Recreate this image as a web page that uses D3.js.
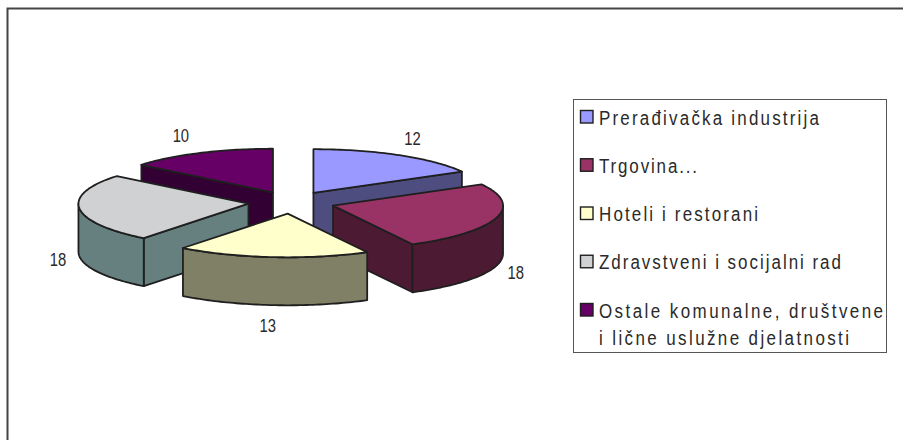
<!DOCTYPE html>
<html>
<head>
<meta charset="utf-8">
<script src="https://cdn.jsdelivr.net/npm/d3@7/dist/d3.min.js"></script>
<style>
html,body{margin:0;padding:0;background:#fff;}
svg{display:block;}
text{font-family:"Liberation Sans",Arial,sans-serif;fill:#2a2a2a;}
</style>
</head>
<body>
<svg id="chart" width="903" height="440"></svg>
<script>
const categories = ["Prerađivačka industrija","Trgovina...","Hoteli i restorani","Zdravstveni i socijalni rad","Ostale komunalne, društvene|i lične uslužne djelatnosti"];
const values = [12,18,13,18,10];
const topColors = ["#9999ff","#993366","#ffffcc","#d0d1d3","#660066"];
const wallColors = ["#4d4d80","#4d1a33","#808066","#668080","#330033"];

const W = 903, H = 440;
const cx = 291.5, cy = 202.5, rx = 170, ry = 43.7, depth = 48, explode = 43.3;
const edge = "#1f1f1f";
const labelNudge = [2,-1,-3,0,-10];
const legendWidths = [[220],[98],[159],[242],[284,250]];
const svg = d3.select("#chart");

// outer frame: top and left only
svg.append("path").attr("d",`M${W},8.5H7.5V${H}`).attr("fill","none").attr("stroke","#444").attr("stroke-width",2);

const arcs = d3.pie().sort(null).startAngle(0).endAngle(2*Math.PI)(values);
const px = a => rx*Math.sin(a), py = a => -ry*Math.cos(a);
const line = d3.line();

const slices = arcs.map((d,i)=>{
  const mid = (d.startAngle+d.endAngle)/2;
  return {i,mid,a0:d.startAngle,a1:d.endAngle,
    tx:cx+explode*Math.sin(mid), ty:cy-explode*(ry/rx)*Math.cos(mid)};
});
const samples = (a0,a1)=>{
  const n = Math.max(2,Math.ceil((a1-a0)/0.02));
  return d3.range(n+1).map(k=>a0+(a1-a0)*k/n);
};
const drawOrder = [4,0,3,1,2];
const g = svg.append("g").attr("stroke",edge).attr("stroke-width",1.8).attr("stroke-linejoin","round");

drawOrder.forEach(idx=>{
  const s = slices[idx];
  const pt = (a,dz=0)=>[s.tx+px(a), s.ty+py(a)+dz];
  const tip = [s.tx,s.ty], tipB=[s.tx,s.ty+depth];
  const walls = [];
  // radial wall at slice start (faces the viewer on the left half)
  if (Math.sin(s.a0) < -1e-6) walls.push([tip,pt(s.a0),pt(s.a0,depth),tipB]);
  // radial wall at slice end (faces the viewer on the right half)
  if (Math.sin(s.a1) > 1e-6) walls.push([tip,pt(s.a1),pt(s.a1,depth),tipB]);
  // outer wall on the front half of the rim
  const fa0 = Math.max(s.a0,Math.PI/2), fa1 = Math.min(s.a1,3*Math.PI/2);
  if (fa1 > fa0) {
    const as = samples(fa0,fa1);
    walls.push(as.map(a=>pt(a)).concat(as.slice().reverse().map(a=>pt(a,depth))));
  }
  walls.forEach(w=>g.append("path").attr("d",line(w)+"Z").attr("fill",wallColors[idx]));
  const top = [tip].concat(samples(s.a0,s.a1).map(a=>pt(a)));
  g.append("path").attr("d",line(top)+"Z").attr("fill",topColors[idx]);
});

// condensed text helper
function label(x,y,str,size,spacing,anchor,sx){
  return svg.append("text")
    .attr("transform",`translate(${x},${y}) scale(${sx},1)`)
    .attr("font-size",size)
    .attr("letter-spacing",spacing)
    .attr("text-anchor",anchor||"start")
    .text(str);
}
// data labels
slices.forEach(s=>{
  const c = Math.cos(s.mid);
  const x = cx+235*Math.sin(s.mid)+labelNudge[s.i];
  const y = cy-75*c+(c<0?depth:0)+7;
  label(x,y,values[s.i],19,0,"middle",0.78);
});

// legend
const lx = 573.5, ly = 99.5, lw = 313, lh = 253;
svg.append("rect").attr("x",lx).attr("y",ly).attr("width",lw).attr("height",lh)
  .attr("fill","#fff").attr("stroke","#555").attr("stroke-width",1);
const rowY = d3.scalePoint().domain(d3.range(categories.length)).range([123.5,316.5]);
const legendScale = 0.87;
categories.forEach((c,i)=>{
  const y = rowY(i);
  svg.append("rect").attr("x",580.5).attr("y",y-13).attr("width",12.5).attr("height",12.5)
    .attr("fill",topColors[i]).attr("stroke",edge).attr("stroke-width",1.4);
  c.split("|").forEach((t,j)=>{
    label(599,y+1+j*27,t,19.5,0,"start",legendScale)
      .attr("textLength",legendWidths[i][j]/legendScale)
      .attr("lengthAdjust","spacing");
  });
});
</script>
</body>
</html>
